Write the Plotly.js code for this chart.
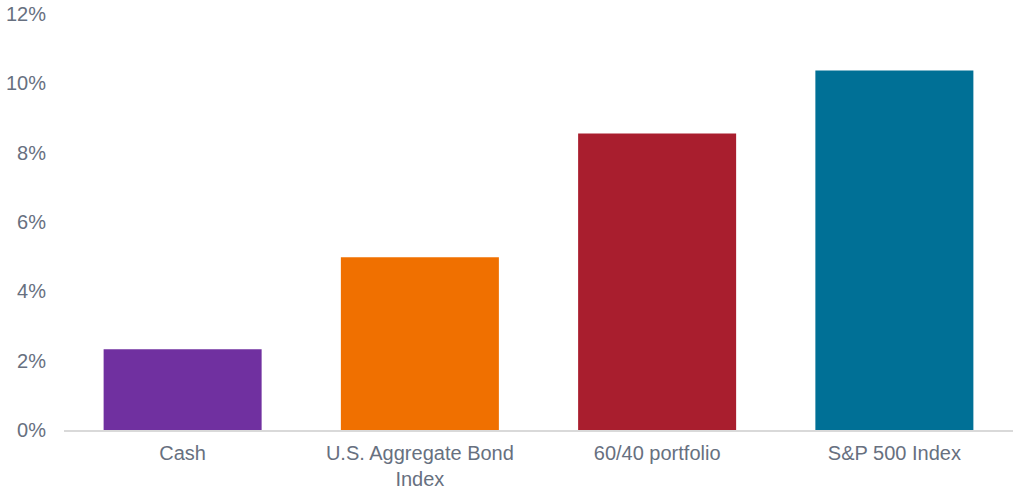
<!DOCTYPE html>
<html>
<head>
<meta charset="utf-8">
<script src="https://cdn.plot.ly/plotly-3.0.1.min.js"></script>
<style>html,body{margin:0;padding:0;background:#fff;}#chart{width:1024px;height:490px;}</style>
</head>
<body>
<div id="chart"></div>
<script>
const categories = ["Cash", "U.S. Aggregate Bond<br>Index", "60/40 portfolio", "S&P 500 Index"];
const values = [2.33, 4.98, 8.55, 10.37];
const barColors = ["#7030A0", "#F07000", "#A91E2E", "#007096"];
const yTickVals = [0, 2, 4, 6, 8, 10, 12];
const yTickText = ["0%", "2%", "4%", "6%", "8%", "10%", "12%"];

const textColor = "#67707F";
const trace = {
  type: "bar",
  x: categories,
  y: values,
  marker: {color: barColors},
  hoverinfo: "none"
};
const layout = {
  width: 1024, height: 490,
  margin: {l: 64, r: 11, t: 14, b: 60},
  paper_bgcolor: "#fff", plot_bgcolor: "#fff",
  bargap: 0.334,
  showlegend: false,
  font: {family: "Liberation Sans, Arial, sans-serif", size: 20, color: textColor},
  xaxis: {
    type: "category",
    showline: true, linecolor: "#D9D9D9", linewidth: 1.5,
    showgrid: false, ticks: "", zeroline: false,
    ticklabelstandoff: 4,
    tickfont: {size: 20, color: textColor}
  },
  yaxis: {
    range: [0, 12],
    tickvals: yTickVals, ticktext: yTickText,
    showgrid: false, zeroline: false, showline: false, ticks: "",
    ticklabelstandoff: 17,
    tickfont: {size: 20, color: textColor}
  }
};
Plotly.newPlot("chart", [trace], layout, {displayModeBar: false, staticPlot: true});
</script>
</body>
</html>
